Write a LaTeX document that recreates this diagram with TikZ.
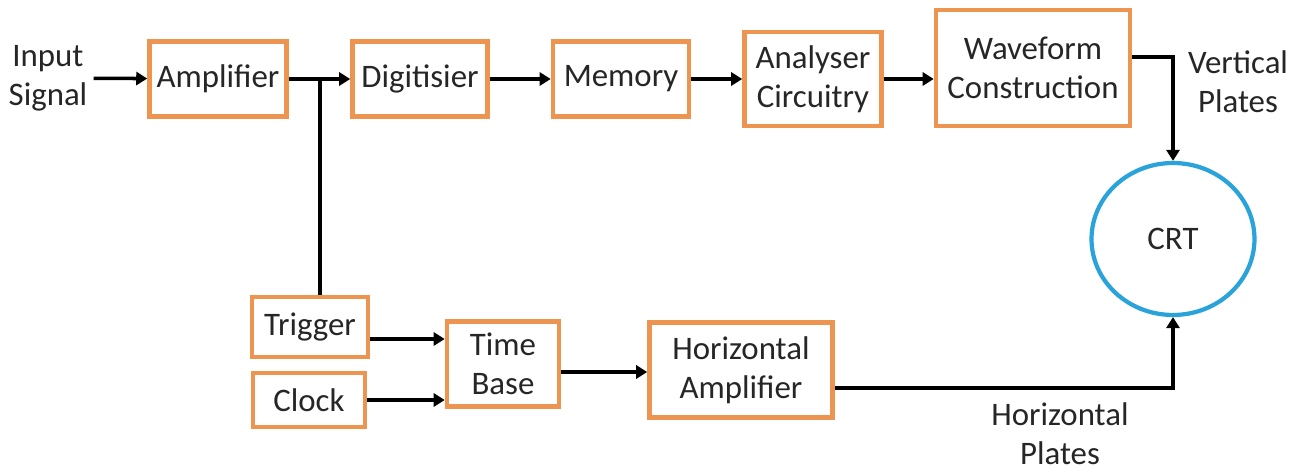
\documentclass[tikz,border=0pt]{standalone}
\usepackage{fontspec}
\setmainfont{Carlito}
\usepackage{xcolor}
\usepackage{tikz}
\usetikzlibrary{positioning, arrows.meta, shapes.geometric}
\definecolor{boxorange}{HTML}{EC9450}
\definecolor{crtblue}{HTML}{2AA3DA}
\definecolor{textgray}{HTML}{262626}

\tikzset{
    block/.style={draw=boxorange, line width=2.6pt, fill=white, align=center,
                  inner sep=2pt, text=textgray},
    label/.style={align=center, text=textgray},
    arr/.style={line width=2pt, -{Triangle[length=0.22cm, width=0.26cm]}},
    wire/.style={line width=2pt}
}

\begin{document}
\begin{tikzpicture}[x=0.02cm, y=-0.02cm, font=\fontsize{18.7}{22}\selectfont]
    \useasboundingbox (0,0) rectangle (1303,472);

    \node[label] (insig) at (48,78) {Input\\Signal};
    \node[block, minimum width=2.74cm, minimum height=1.5cm] (amp) at (218,79) {Amplifier};
    \node[block, minimum width=2.7cm, minimum height=1.5cm] (dig) at (420,79) {Digitisier};
    \node[block, minimum width=2.72cm, minimum height=1.5cm] (mem) at (621,79) {Memory};
    \node[block, minimum width=2.74cm, minimum height=1.88cm] (ana) at (813,79) {Analyser\\Circuitry};
    \node[block, minimum width=3.88cm, minimum height=2.32cm] (wave) at (1033,68) {Waveform\\Construction};
    \node[ellipse, draw=crtblue, line width=2.4pt, text=textgray,
          minimum width=3.26cm, minimum height=3.04cm] (crt) at (1173,239) {CRT};
    \node[label] (vplates) at (1238,82) {Vertical\\Plates};

    \node[block, minimum width=2.32cm, minimum height=1.2cm] (trig) at (310,327) {Trigger};
    \node[block, minimum width=2.24cm, minimum height=1.08cm] (clk) at (309,400) {Clock};
    \node[block, minimum width=2.24cm, minimum height=1.7cm] (tb) at (503,364) {Time\\Base};
    \node[block, minimum width=3.66cm, minimum height=1.9cm] (hamp) at (741,370) {Horizontal\\Amplifier};
    \node[label] (hplates) at (1060,434) {Horizontal\\Plates};

    \coordinate (tap) at (320,79);

    \draw[arr] (insig) -- (amp);
    \draw[arr] (amp) -- (dig);
    \draw[wire] (tap) -- (tap |- trig.north);
    \draw[arr] (dig) -- (mem);
    \draw[arr] (mem) -- (ana);
    \draw[arr] (ana.east) -- (ana.east -| wave.west);
    \draw[arr] ([yshift=0.22cm]wave.east) -| (crt.north);

    \draw[arr] ([yshift=-0.24cm]trig.east) -- ([yshift=-0.24cm]trig.east -| tb.west);
    \draw[arr] (clk.east) -- (clk.east -| tb.west);
    \draw[arr] ([yshift=-0.16cm]tb.east) -- ([yshift=-0.16cm]tb.east -| hamp.west);
    \draw[arr] ([yshift=-0.36cm]hamp.east) -| (crt.south);
\end{tikzpicture}
\end{document}
